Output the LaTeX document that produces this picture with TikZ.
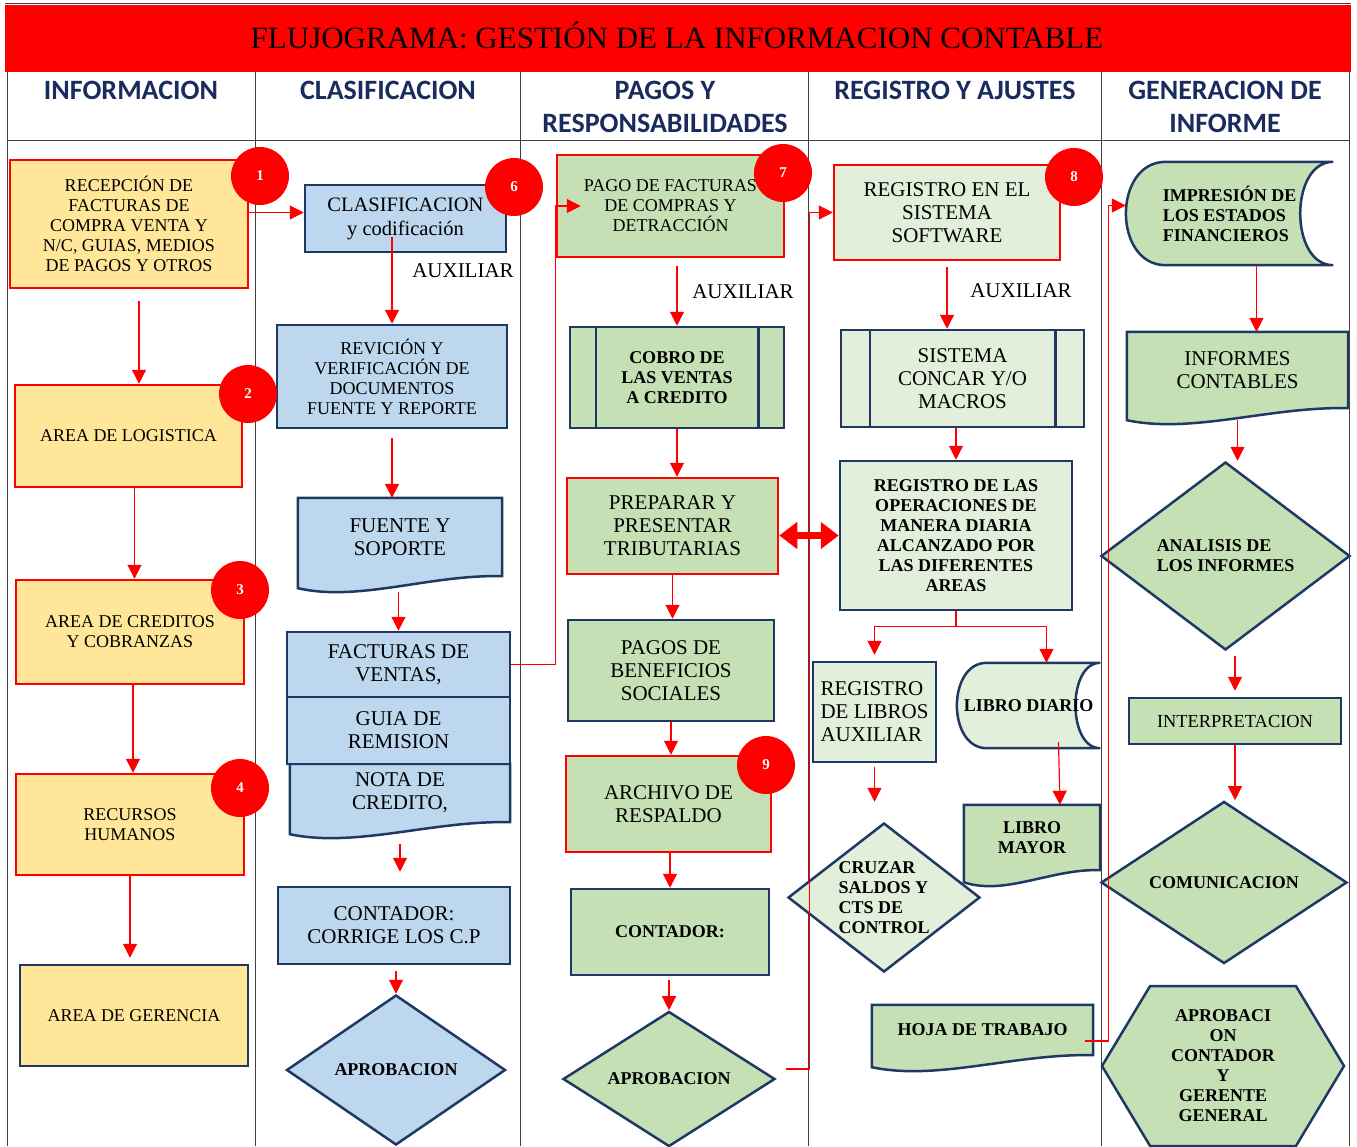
\documentclass[tikz,border=0pt]{standalone}
\usepackage{fontspec}
\setmainfont{Liberation Serif}
\newfontfamily\cabfont{Carlito}
\usetikzlibrary{shapes.geometric,shapes.symbols,arrows.meta,calc}

\definecolor{rojo}{HTML}{FF0000}
\definecolor{navy}{HTML}{1F3864}
\definecolor{tinta}{HTML}{1A2B5E}
\definecolor{amarillo}{HTML}{FFE699}
\definecolor{celeste}{HTML}{BDD7EE}
\definecolor{verde}{HTML}{C5E0B4}
\definecolor{verdeclaro}{HTML}{E2EFDA}
\definecolor{rejilla}{HTML}{404040}

\pgfdeclarelayer{bg}
\pgfsetlayers{bg,main}

\tikzset{
  txs/.style={font=\fontsize{18}{20}\selectfont},
  txm/.style={font=\fontsize{21}{23}\selectfont},
  txb/.style={font=\fontsize{18}{20}\selectfont\bfseries},
  tam/.style 2 args={minimum width=#1pt, minimum height=#2pt},
  caja/.style={rectangle, line width=2.5pt, align=center, inner sep=2pt},
  cajaroja/.style={caja, draw=rojo},
  cajaazul/.style={caja, draw=navy},
  rombo/.style={diamond, draw=navy, line width=2.5pt, align=center, inner sep=0pt},
  hoja/.style={align=center, inner sep=2pt},
  badge/.style={circle, fill=rojo, minimum size=58pt, inner sep=0pt, text=white,
    font=\fontsize{15}{15}\selectfont\bfseries},
  flecha/.style={draw=rojo, line width=1.2pt, -{Triangle[length=14pt,width=14pt]}},
  doble/.style={draw=rojo, line width=7pt,
    {Triangle[length=18pt,width=26pt]}-{Triangle[length=18pt,width=26pt]}},
  cabeza/.style={font=\cabfont\fontsize{28}{33}\selectfont\bfseries, text=tinta, align=center},
  borde/.style={draw=navy, line width=2.5pt},
}

% documento con borde inferior ondulado
\newcommand\ondas[2]{%
  \begin{pgfonlayer}{bg}
    \draw[borde, fill=#2]
      (#1.south east) -- (#1.north east) -- (#1.north west) -- ($(#1.south west)+(0,12)$)
      .. controls ($(#1.south west)!0.3!(#1.south east)+(0,26)$)
      and ($(#1.south west)!0.65!(#1.south east)+(0,-2)$) .. (#1.south east) -- cycle;
  \end{pgfonlayer}}

% datos almacenados
\newcommand\disco[3]{%
  \begin{pgfonlayer}{bg}
    \draw[borde, fill=#2]
      ($(#1.north west)+(#3,0)$) -- (#1.north east)
      .. controls ($(#1.north east)+(-1.1*#3,0)$) and ($(#1.south east)+(-1.1*#3,0)$) .. (#1.south east)
      -- ($(#1.south west)+(#3,0)$)
      .. controls ($(#1.south west)+(-0.33*#3,0)$) and ($(#1.north west)+(-0.33*#3,0)$)
      .. ($(#1.north west)+(#3,0)$) -- cycle;
  \end{pgfonlayer}}

\begin{document}
\begin{tikzpicture}[x=1pt, y=-1pt, txs]
  \useasboundingbox (0,0) rectangle (1357,1146);

  \fill[rojo] (5,5) rectangle (1351,72);
  \draw[rejilla, line width=0.8pt] (5,3) -- (1351,3);
  \foreach \x in {7,255,520,808,1101,1349}
    \draw[rejilla, line width=1pt] (\x,72) -- (\x,1146);
  \draw[rejilla, line width=1pt] (7,140) -- (1349,140);

  \node[font=\fontsize{31}{34}\selectfont] (titulo) at (677,35)
    {FLUJOGRAMA: GESTIÓN DE LA INFORMACION CONTABLE};
  \node[cabeza] (h1) at (131,90) {INFORMACION};
  \node[cabeza] (h2) at (388,90) {CLASIFICACION};
  \node[cabeza] (h3) at (665,106.5) {PAGOS Y\\RESPONSABILIDADES};
  \node[cabeza] (h4) at (955,90) {REGISTRO Y AJUSTES};
  \node[cabeza] (h5) at (1225,106.5) {GENERACION DE\\INFORME};

  \node[cajaroja, fill=amarillo, tam={238}{128}] (n1) at (129,224)
    {RECEPCIÓN DE\\FACTURAS DE\\COMPRA VENTA Y\\N/C, GUIAS, MEDIOS\\DE PAGOS Y OTROS};
  \node[cajaroja, fill=amarillo, tam={227}{102}] (n2) at (128.5,436) {AREA DE LOGISTICA};
  \node[cajaroja, fill=amarillo, tam={228}{104}] (n3) at (130,632) {AREA DE CREDITOS\\Y COBRANZAS};
  \node[cajaroja, fill=amarillo, tam={228}{101}] (n4) at (130,824.5) {RECURSOS\\HUMANOS};
  \node[cajaazul, fill=amarillo, tam={228}{101}] (n5) at (134,1015.5) {AREA DE GERENCIA};

  \node[cajaazul, fill=celeste, font=\fontsize{20.5}{24}\selectfont, tam={201}{67}] (c1) at (405.5,218.5)
    {CLASIFICACION\\y codificación};
  \node[cajaazul, fill=celeste, tam={230}{103}] (c2) at (392,376.5)
    {REVICIÓN Y\\VERIFICACIÓN DE\\DOCUMENTOS\\FUENTE Y REPORTE};
  \node[hoja, txm, tam={204}{78}] (c3) at (400,537) {FUENTE Y\\SOPORTE};
  \ondas{c3}{celeste}
  \node[cajaazul, fill=celeste, txm, tam={223}{65}] (c4a) at (398.5,664.5) {FACTURAS DE\\VENTAS,};
  \node[cajaazul, fill=celeste, txm, tam={223}{67}] (c4b) at (398.5,730.5) {GUIA DE\\REMISION};
  \node[hoja, txm, tam={220}{58}] (c4c) at (400,793) {NOTA DE\\CREDITO,};
  \ondas{c4c}{celeste}
  \node[cajaazul, fill=celeste, txm, tam={232}{77}] (c5) at (394,925.5) {CONTADOR:\\CORRIGE LOS C.P};
  \node[rombo, fill=celeste, txb, tam={219}{150}] (c6) at (396,1070) {APROBACION};

  \node[cajaroja, fill=verde, tam={227}{102}] (p1) at (670.5,206)
    {PAGO DE FACTURAS\\DE COMPRAS Y\\DETRACCIÓN};
  \node[cajaazul, fill=verde, txb, tam={214}{101}] (p2) at (677,377.5) {COBRO DE\\LAS VENTAS\\A CREDITO};
  \draw[borde] ([xshift=27pt]p2.north west) -- ([xshift=27pt]p2.south west)
    ([xshift=-27pt]p2.north east) -- ([xshift=-27pt]p2.south east);
  \node[cajaroja, fill=verde, txm, tam={211}{96}] (p3) at (672.5,526) {PREPARAR Y\\PRESENTAR\\TRIBUTARIAS};
  \node[cajaazul, fill=verde, txm, tam={206}{101}] (p4) at (671,670.5) {PAGOS DE\\BENEFICIOS\\SOCIALES};
  \node[cajaroja, fill=verde, txm, tam={205}{96}] (p5) at (668.5,804) {ARCHIVO DE\\RESPALDO};
  \node[cajaazul, fill=verde, txb, tam={198}{86}] (p6) at (670,932) {CONTADOR:};
  \node[rombo, fill=verde, txb, tam={212}{126}] (p7) at (669,1079) {APROBACION};

  \node[cajaroja, fill=verdeclaro, txm, tam={226}{95}] (r1) at (947,212.5)
    {REGISTRO EN EL\\SISTEMA\\SOFTWARE};
  \node[cajaazul, fill=verdeclaro, txm, tam={243}{97}] (r2) at (962.5,378.5)
    {SISTEMA\\CONCAR Y/O\\MACROS};
  \draw[borde] ([xshift=30pt]r2.north west) -- ([xshift=30pt]r2.south west)
    ([xshift=-30pt]r2.north east) -- ([xshift=-30pt]r2.south east);
  \node[cajaazul, fill=verdeclaro, txb, tam={232}{149}] (r3) at (956,535.5)
    {REGISTRO DE LAS\\OPERACIONES DE\\MANERA DIARIA\\ALCANZADO POR\\LAS DIFERENTES\\AREAS};
  \node[cajaazul, fill=verdeclaro, txm, align=left, inner sep=0pt, tam={123}{100}] (r4) at (874.5,712)
    {REGISTRO\\DE LIBROS\\AUXILIAR};
  \node[hoja, txb, tam={143}{85}] (r5) at (1028.5,705.5) {LIBRO DIARIO};
  \disco{r5}{verdeclaro}{30}
  \node[rombo, fill=verdeclaro, txb, align=left, inner sep=-12pt, tam={192}{149}] (r6) at (884,897.5)
    {CRUZAR\\SALDOS Y\\CTS DE\\CONTROL};
  \node[hoja, txb, tam={136}{65}] (r7) at (1032,837.5) {LIBRO\\MAYOR};
  \ondas{r7}{verde}
  \node[hoja, txb, tam={221}{50}] (r8) at (982.5,1030) {HOJA DE TRABAJO};
  \ondas{r8}{verde}

  \node[hoja, txb, align=left, tam={207}{103}] (g1) at (1229.5,213.5)
    {IMPRESIÓN DE\\LOS ESTADOS\\FINANCIEROS};
  \disco{g1}{verde}{40}
  \node[hoja, txm, tam={221}{76}] (g2) at (1237.5,370) {INFORMES\\CONTABLES};
  \ondas{g2}{verde}
  \node[rombo, fill=verde, txb, align=left, tam={249}{188}] (g3) at (1225.5,556) {ANALISIS DE\\LOS INFORMES};
  \node[cajaazul, fill=verde, font=\fontsize{18.4}{20}\selectfont, tam={212}{46}] (g4) at (1235,721) {INTERPRETACION};
  \node[rombo, fill=verde, txb, tam={246}{155}] (g5) at (1224,882.5) {COMUNICACION};
  \node[signal, signal to=west and east, signal pointer angle=118, draw=navy, line width=2.5pt,
    fill=verde, txb, align=center, inner sep=0pt, tam={242}{160}] (g6) at (1223,1066)
    {APROBACI\\ON\\CONTADOR\\Y\\GERENTE\\GENERAL};

  \node[font=\fontsize{21}{23}\selectfont] (aux1) at (463,271) {AUXILIAR};
  \node[font=\fontsize{21}{23}\selectfont] (aux2) at (743,292) {AUXILIAR};
  \node[font=\fontsize{21}{23}\selectfont] (aux3) at (1021,291) {AUXILIAR};

  \draw[flecha] ([yshift=6pt]c1.west -| n1.east) -- ([yshift=6pt]c1.west);
  \draw[flecha, shorten <=12pt] ([xshift=10pt]n1.south) -- ([xshift=10pt]n1.south |- n2.north);
  \draw[flecha] ([xshift=6pt]n2.south) -- ([xshift=6pt]n2.south |- n3.north);
  \draw[flecha] ([xshift=3pt]n3.south) -- ([xshift=3pt]n3.south |- n4.north);
  \draw[flecha, shorten >=6pt] (n4.south) -- (n4.south |- n5.north);

  \draw[flecha, shorten <=-16pt] (c1.south -| c2.north) -- (c2.north);
  \draw[flecha, shorten <=9pt] (c2.south) -- (c2.south |- c3.north);
  \draw[flecha, shorten <=16pt] (c3.south -| c4a.north) -- (c4a.north);
  \draw[flecha, shorten <=22pt, shorten >=14pt] (c4c.south) -- (c4c.south |- c5.north);
  \draw[flecha, shorten <=6pt] (c5.south -| c6.north) -- (c6.north);
  \draw[flecha] (c4a.east) -- (c4a.east -| p1.west) |- ([xshift=25pt]p1.west);

  \draw[flecha, shorten <=8pt] (p1.south -| p2.north) -- (p2.north);
  \draw[flecha] (p2.south) -- (p2.south |- p3.north);
  \draw[doble] (p3.east |- r3.west) -- (r3.west);
  \draw[flecha] (p3.south) -- (p3.south |- p4.north);
  \draw[flecha] (p4.south) -- (p4.south |- p5.north);
  \draw[flecha] (p5.south -| p6.north) -- (p6.north);
  \draw[flecha, shorten <=4pt] (p6.south -| p7.north) -- (p7.north);
  \draw[flecha] ([xshift=10pt,yshift=10pt]p7.east) -- ++(23,0) |- (r1.west);

  \draw[flecha, shorten <=6pt] (r1.south) -- (r1.south |- r2.north);
  \draw[flecha] (r3.north |- r2.south) -- (r3.north);
  \draw[flecha, shorten >=6pt] (r3.south) -- ++(0,15) -| (r4.north);
  \draw[flecha] (r3.south) -- ++(0,15) -| ([xshift=18pt]r5.north);
  \draw[flecha, shorten <=4pt, shorten >=20pt] (r4.south) -- (r4.south |- r6.north);
  \draw[flecha] ([xshift=30pt,yshift=6pt]r5.south) -- ([xshift=28pt]r7.north);
  \draw[flecha] ([xshift=-8pt,yshift=-11pt]r8.east) -- ++(23,0) |- ([yshift=8pt]g1.west);

  \draw[flecha] ([xshift=27pt]g1.south) -- ([xshift=27pt]g1.south |- g2.north);
  \draw[flecha, shorten <=12pt] (g2.south) -- (g2.south |- g3.north);
  \draw[flecha, shorten <=5pt, shorten >=6pt] (g4.north |- g3.south) -- (g4.north);
  \draw[flecha] (g4.south) -- (g4.south |- g5.north);

  \node[badge] (b1) at (260,176) {1};
  \node[badge] (b2) at (248,394) {2};
  \node[badge] (b3) at (240,590) {3};
  \node[badge] (b4) at (240,788) {4};
  \node[badge] (b6) at (514,187) {6};
  \node[badge] (b7) at (783,173) {7};
  \node[badge] (b8) at (1074,177) {8};
  \node[badge] (b9) at (766,765) {9};
\end{tikzpicture}
\end{document}
